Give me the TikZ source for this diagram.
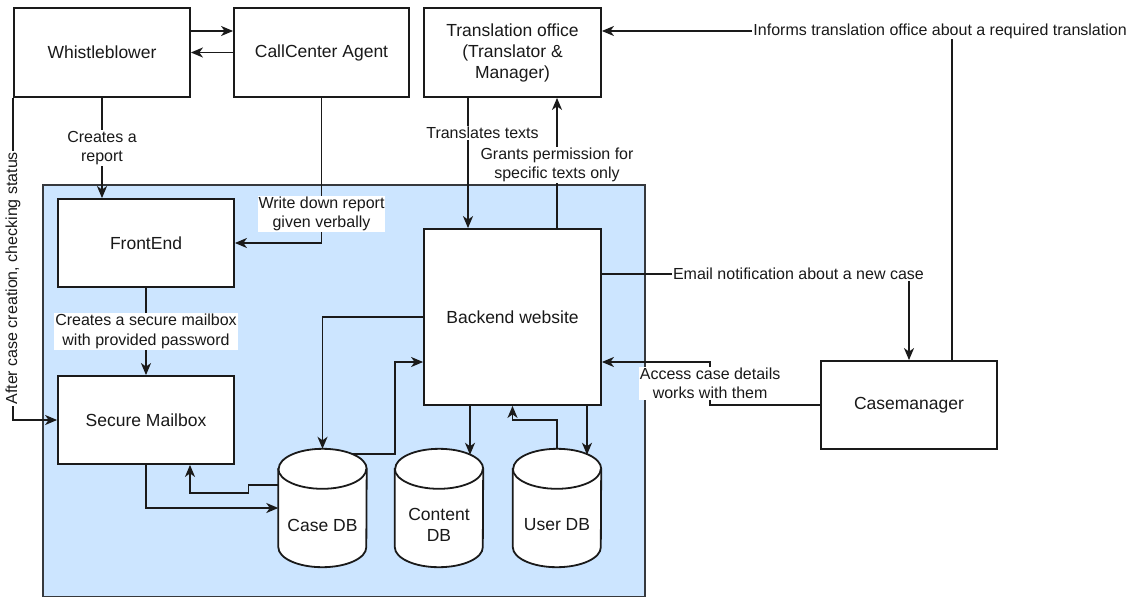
\documentclass[tikz,border=0pt]{standalone}
\usepackage{fontspec}
\setmainfont{Liberation Sans}
\usetikzlibrary{arrows.meta,calc}
\definecolor{sysblue}{HTML}{CCE5FF}
\definecolor{edgecol}{HTML}{1A1A1A}
\definecolor{framecol}{HTML}{36393D}
\newcommand\nodefont{\fontsize{17.5}{21}\selectfont}
\newcommand\lblfont{\fontsize{16}{19.5}\selectfont}
\tikzset{
 box/.style={draw=edgecol, line width=1.8pt, fill=white, font=\nodefont, align=center, inner sep=0pt, minimum width=176pt, minimum height=88pt, text=black!90},
 dbbox/.style={minimum width=88pt, minimum height=118pt, inner sep=0pt},
 dbtext/.style={font=\nodefont, align=center, inner sep=0pt, text=black!90},
 cylline/.style={draw=edgecol, line width=1.8pt},
 arr/.style={draw=edgecol, line width=1.6pt, -{Stealth[length=12pt,width=10pt,inset=3.5pt]}},
 lbl/.style={fill=white, font=\lblfont, align=center, inner sep=1pt, text=black!90},
 sysregion/.style={fill=sysblue, draw=framecol, line width=1.8pt},
}
\newcommand\dbcylinder[1]{%
 \draw[cylline, fill=white] ([yshift=-20pt]#1.north west) -- ([yshift=20pt]#1.south west)
   arc[start angle=180, end angle=360, x radius=44pt, y radius=20pt]
   -- ([yshift=-20pt]#1.north east)
   arc[start angle=0, end angle=180, x radius=44pt, y radius=20pt] -- cycle;
 \draw[cylline] ([yshift=-20pt]#1.north west) arc[start angle=180, end angle=360, x radius=44pt, y radius=20pt];
}
\begin{document}
\begin{tikzpicture}[x=1pt,y=1pt]
\useasboundingbox (0,0) rectangle (1134,-599);
% system region
\draw[sysregion] (43,-185) rectangle (645,-596.5);

% boxes
\node[box, minimum height=89pt] (wb) at (102,-52.5) {Whistleblower};
\node[box, minimum width=175pt, minimum height=89pt] (cc) at (321.5,-52.5) {CallCenter Agent};
\node[box, minimum width=177pt, minimum height=89pt] (to) at (512.5,-52.5) {Translation office\\(Translator \&\\Manager)};
\node[box] (fe) at (146,-243) {FrontEnd};
\node[box] (sm) at (146,-420) {Secure Mailbox};
\node[box, minimum width=177pt, minimum height=176pt] (be) at (512.5,-317) {Backend website};
\node[box] (cm) at (909,-405) {Casemanager};

% databases
\node[dbbox] (casedb) at (322.5,-508) {};
\node[dbbox] (contentdb) at (439,-508) {};
\node[dbbox] (userdb) at (557,-508) {};
\dbcylinder{casedb}
\dbcylinder{contentdb}
\dbcylinder{userdb}
\node[dbtext] (casedbtext) at ([yshift=-17pt]casedb.center) {Case DB};
\node[dbtext] (contentdbtext) at ([yshift=-17pt]contentdb.center) {Content\\DB};
\node[dbtext] (userdbtext) at ([yshift=-17pt]userdb.center) {User DB};

% Whistleblower <-> CallCenter
\draw[arr] ([yshift=21.5pt]wb.east) -- ([yshift=21.5pt]cc.west);
\draw[arr] (cc.west) -- (wb.east);

% Whistleblower -> FrontEnd
\draw[arr] (wb.south) -- node[lbl]{Creates a\\report} (wb.south |- fe.north);

% Whistleblower -> Secure Mailbox
\draw[arr] (wb.south west) |- node[lbl, rotate=90, pos=0.28]{After case creation, checking status} (sm.west);

% CallCenter -> FrontEnd
\draw[arr] (cc.south) -- node[lbl, pos=0.8]{Write down report\\given verbally} (cc.south |- fe.east) -- (fe.east);

% FrontEnd -> Secure Mailbox
\draw[arr] (fe.south) -- node[lbl]{Creates a secure mailbox\\with provided password} (sm.north);

% Translation <-> Backend
\draw[arr] ([xshift=-44.5pt]to.south) -- node[lbl, pos=0.27, xshift=14.5pt]{Translates texts} ([xshift=-44.5pt]be.north);
\draw[arr] ([xshift=44.5pt]be.north) -- node[lbl, pos=0.485]{Grants permission for\\specific texts only} ([xshift=44.5pt]to.south);

% Backend -> Casemanager (email)
\draw[arr] ([yshift=43pt]be.east) -- node[lbl, pos=0.64]{Email notification about a new case} ([yshift=43pt]be.east -| cm.north) -- (cm.north);

% Casemanager -> Backend (access)
\coordinate (accx) at ($(cm.west)+(-110,43)$);
\draw[arr] (cm.west) -| node[lbl, pos=0.75]{Access case details\\works with them} (accx) -- (accx -| be.east);

% Casemanager -> Translation office (informs)
\draw[arr] ([xshift=43pt]cm.north) |- node[lbl, pos=0.517]{Informs translation office about a required translation} ([yshift=21.5pt]to.east);

% Backend -> Case DB
\draw[arr] (be.west) -| (casedb.north);

% Case DB -> Backend
\draw[arr] ([xshift=29pt,yshift=-5pt]casedb.north) -- ++(43.5,0) |- ([yshift=-45pt]be.west);

% Secure Mailbox -> Case DB
\draw[arr] (sm.south) |- (casedb.west);

% Case DB -> Secure Mailbox
\draw[arr] ([yshift=23pt]casedb.west) -- ++(-30,0) -- ++(0,-8) -| ([xshift=44pt]sm.south);

% Backend -> Content DB
\draw[arr] ([xshift=-42.5pt]be.south) -- ([xshift=31pt,yshift=-6pt]contentdb.north);

% User DB -> Backend
\draw[arr] (userdb.north) -- ++(0,29) -| (be.south);

% Backend -> User DB
\draw[arr] ([xshift=74.5pt]be.south) -- ([xshift=30pt,yshift=-6pt]userdb.north);
\end{tikzpicture}
\end{document}
